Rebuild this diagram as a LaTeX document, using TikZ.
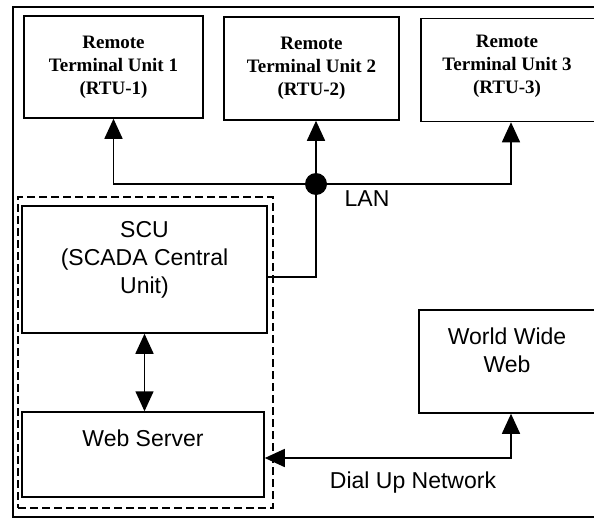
\documentclass[tikz,border=0pt]{standalone}
\usepackage{fontspec}
\setmainfont{Liberation Sans}
\newfontfamily\rtufont{Liberation Serif}
\usetikzlibrary{arrows.meta}

\tikzset{
  box/.style={draw, line width=1.5pt, inner sep=0pt, align=center,
    font=\fontsize{23}{28}\selectfont},
  rtubox/.style={box, font=\rtufont\bfseries\fontsize{19}{23}\selectfont},
  txt/.style={align=center, font=\fontsize{23}{28}\selectfont},
  rtutxt/.style={align=center, font=\rtufont\bfseries\fontsize{19}{23}\selectfont},
  tip/.style={line width=1.5pt, -{Triangle[length=20pt,width=18pt]}},
  tips/.style={line width=1.5pt, {Triangle[length=20pt,width=18pt]}-{Triangle[length=20pt,width=18pt]}}
}

\begin{document}
\begin{tikzpicture}[x=1pt,y=-1pt]
            \useasboundingbox (0,0) rectangle (594,519);
            \clip (0,0) rectangle (594,519);
            \fill[white] (0,0) rectangle (594,519);
            \draw[line width=1.8pt] (13,7) rectangle (640,517);
            % remote units
            \node[rtubox, minimum width=179, minimum height=102] (rtu1) at (113.5,67) {Remote\\Terminal Unit 1\\(RTU-1)};
            \node[rtubox, minimum width=175, minimum height=103] (rtu2) at (311.5,68.5) {Remote\\Terminal Unit 2\\(RTU-2)};
            \node[rtubox, minimum width=210, minimum height=103,
                  label={[rtutxt, xshift=-19pt, yshift=4pt]center:{Remote\\Terminal Unit 3\\(RTU-3)}}] (rtu3) at (526,70) {};
            % central side
            \node[draw, line width=1.4pt, dash pattern=on 8pt off 4pt, minimum width=255, minimum height=311] (grp) at (145.5,352.5) {};
            \node[box, minimum width=245, minimum height=127,
                  label={[txt, yshift=10pt]center:{SCU\\(SCADA Central\\Unit)}}] (scu) at (144.5,269.5) {};
            \node[box, minimum width=242, minimum height=85,
                  label={[txt, yshift=16pt]center:Web Server}] (web) at (143,454.5) {};
            \node[box, minimum width=212, minimum height=103,
                  label={[txt, xshift=-18pt, yshift=11pt]center:{World Wide\\Web}}] (www) at (525,361.5) {};
            % LAN
            \coordinate (lan) at (316,184);
            \coordinate (bus3) at (511,184);
            \coordinate (tap) at (316,277);
            \draw[tip] (lan) -| (rtu1.south);
            \draw[tip] (lan) -- (lan |- rtu2.south);
            \draw[tip] (lan) -- (bus3) -- (bus3 |- rtu3.south);
            \draw[line width=1.5pt] (lan) -- (tap) -- (scu.east |- tap);
            \fill (lan) circle (11pt);
            \node[txt] (lantxt) at (367,199) {LAN};
            % server links
            \draw[tips] (scu.south) -- (scu.south |- web.north);
            \coordinate (dial) at (511,458);
            \draw[tips] (web.east |- dial) -- (dial) -- (dial |- www.south);
            \node[txt] (dialtxt) at (413,483) {Dial Up Network};
\end{tikzpicture}
\end{document}
